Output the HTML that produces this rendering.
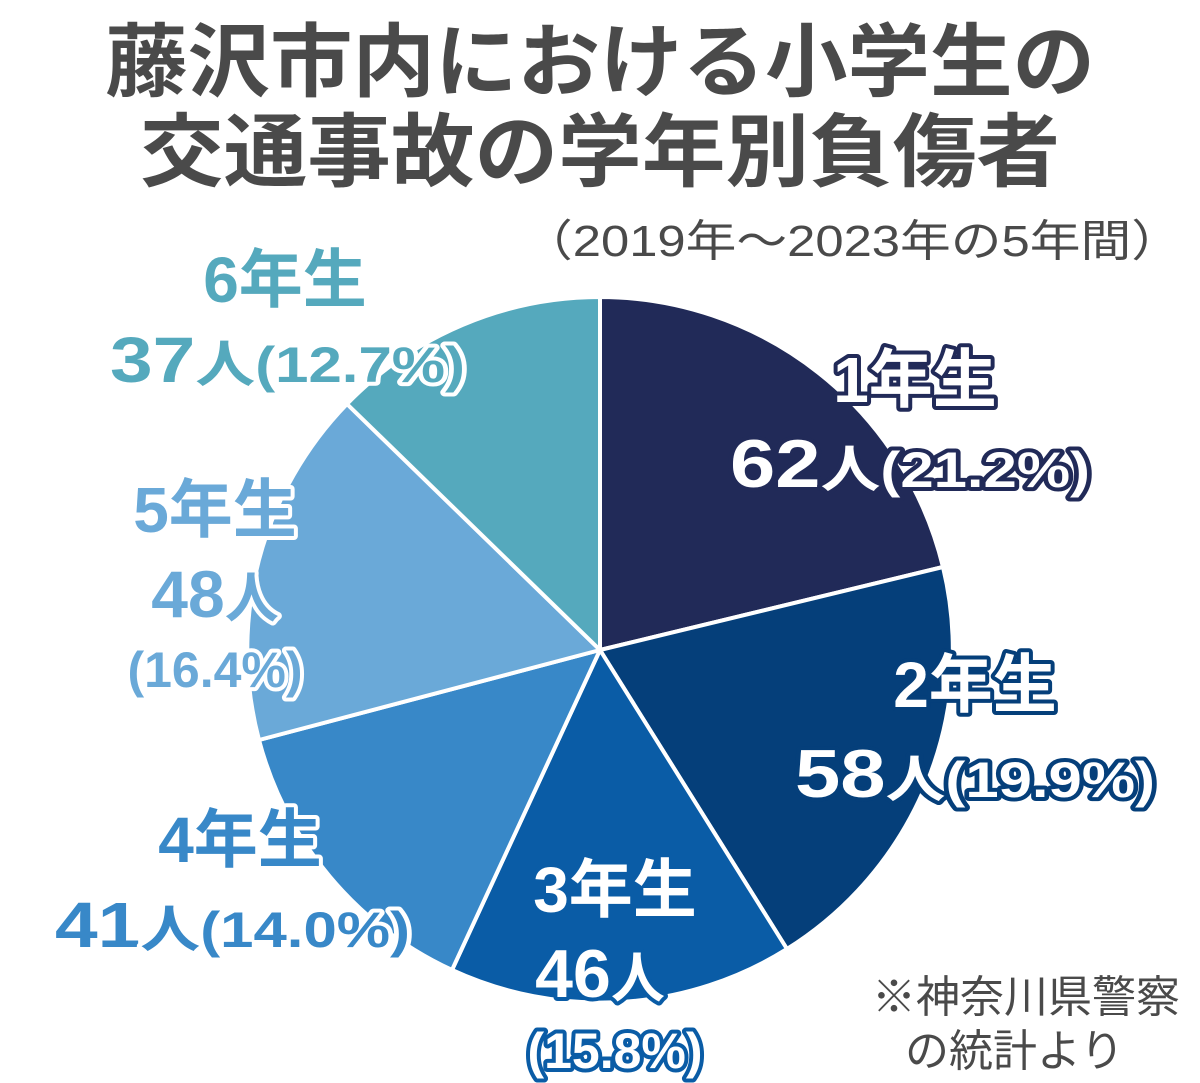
<!DOCTYPE html>
<html><head><meta charset="utf-8"><style>
html,body{margin:0;padding:0;background:#fff}
svg{display:block}
text{font-family:"Liberation Sans","Noto Sans CJK JP",sans-serif}
.t{font-weight:bold;fill:#4a4a4a;font-size:80px}
.s{fill:#4a4a4a;font-size:44px}
.lab{font-weight:bold;paint-order:stroke;stroke-linejoin:round}
</style></head><body>
<svg width="1200" height="1083" viewBox="0 0 1200 1083">
<text class="t" x="600" y="90" text-anchor="middle" textLength="990" lengthAdjust="spacingAndGlyphs">藤沢市内における小学生の</text>
<text class="t" x="600" y="180" text-anchor="middle" textLength="920" lengthAdjust="spacingAndGlyphs">交通事故の学年別負傷者</text>
<text class="s" x="522" y="256" textLength="660" lengthAdjust="spacingAndGlyphs">（2019年～2023年の5年間）</text>
<g stroke="#fff" stroke-width="4" stroke-linejoin="round">
<path d="M600,650 L600,297 A353,353 0 0 1 943,567 Z" fill="#212a58"/>
<path d="M600,650 L943,567 A353,353 0 0 1 787,949 Z" fill="#053f7a"/>
<path d="M600,650 L787,949 A353,353 0 0 1 452,970 Z" fill="#0a5ca6"/>
<path d="M600,650 L452,970 A353,353 0 0 1 259,740 Z" fill="#3888c8"/>
<path d="M600,650 L259,740 A353,353 0 0 1 347,404 Z" fill="#6aa9d8"/>
<path d="M600,650 L347,404 A353,353 0 0 1 600,297 Z" fill="#55a9bd"/>
</g>
<g class="lab" fill="#fff" stroke="#212a58" stroke-width="8">
<text x="915" y="402" font-size="64" text-anchor="middle">1年生</text>
<text x="730" y="487" font-size="68" textLength="360" lengthAdjust="spacingAndGlyphs">62<tspan font-size="50">人(21.2%)</tspan></text>
</g>
<g class="lab" fill="#fff" stroke="#053f7a" stroke-width="8">
<text x="975" y="707" font-size="64" text-anchor="middle">2年生</text>
<text x="795" y="797" font-size="68" textLength="360" lengthAdjust="spacingAndGlyphs">58<tspan font-size="50">人(19.9%)</tspan></text>
</g>
<g class="lab" fill="#fff" stroke="#0a5ca6" stroke-width="8">
<text x="615" y="912" font-size="64" text-anchor="middle">3年生</text>
<text x="600" y="997" font-size="68" text-anchor="middle">46<tspan font-size="54">人</tspan></text>
<text x="615" y="1068" font-size="50" text-anchor="middle">(15.8%)</text>
</g>
<g class="lab" fill="#3888c8" stroke="#fff" stroke-width="8">
<text x="240" y="862" font-size="64" text-anchor="middle">4年生</text>
<text x="55" y="947" font-size="64" textLength="355" lengthAdjust="spacingAndGlyphs">41<tspan font-size="50">人(14.0%)</tspan></text>
</g>
<g class="lab" fill="#6aa9d8" stroke="#fff" stroke-width="8">
<text x="215" y="532" font-size="64" text-anchor="middle">5年生</text>
<text x="215" y="617" font-size="66" text-anchor="middle">48<tspan font-size="54">人</tspan></text>
<text x="215" y="687" font-size="50" text-anchor="middle">(16.4%)</text>
</g>
<g class="lab" fill="#55a9bd" stroke="#fff" stroke-width="8">
<text x="285" y="302" font-size="64" text-anchor="middle">6年生</text>
<text x="110" y="382" font-size="64" textLength="355" lengthAdjust="spacingAndGlyphs">37<tspan font-size="50">人(12.7%)</tspan></text>
</g>
<text class="s" x="1180" y="1012" text-anchor="end">※神奈川県警察</text>
<text class="s" x="905" y="1066">の統計より</text>
</svg>
</body></html>
